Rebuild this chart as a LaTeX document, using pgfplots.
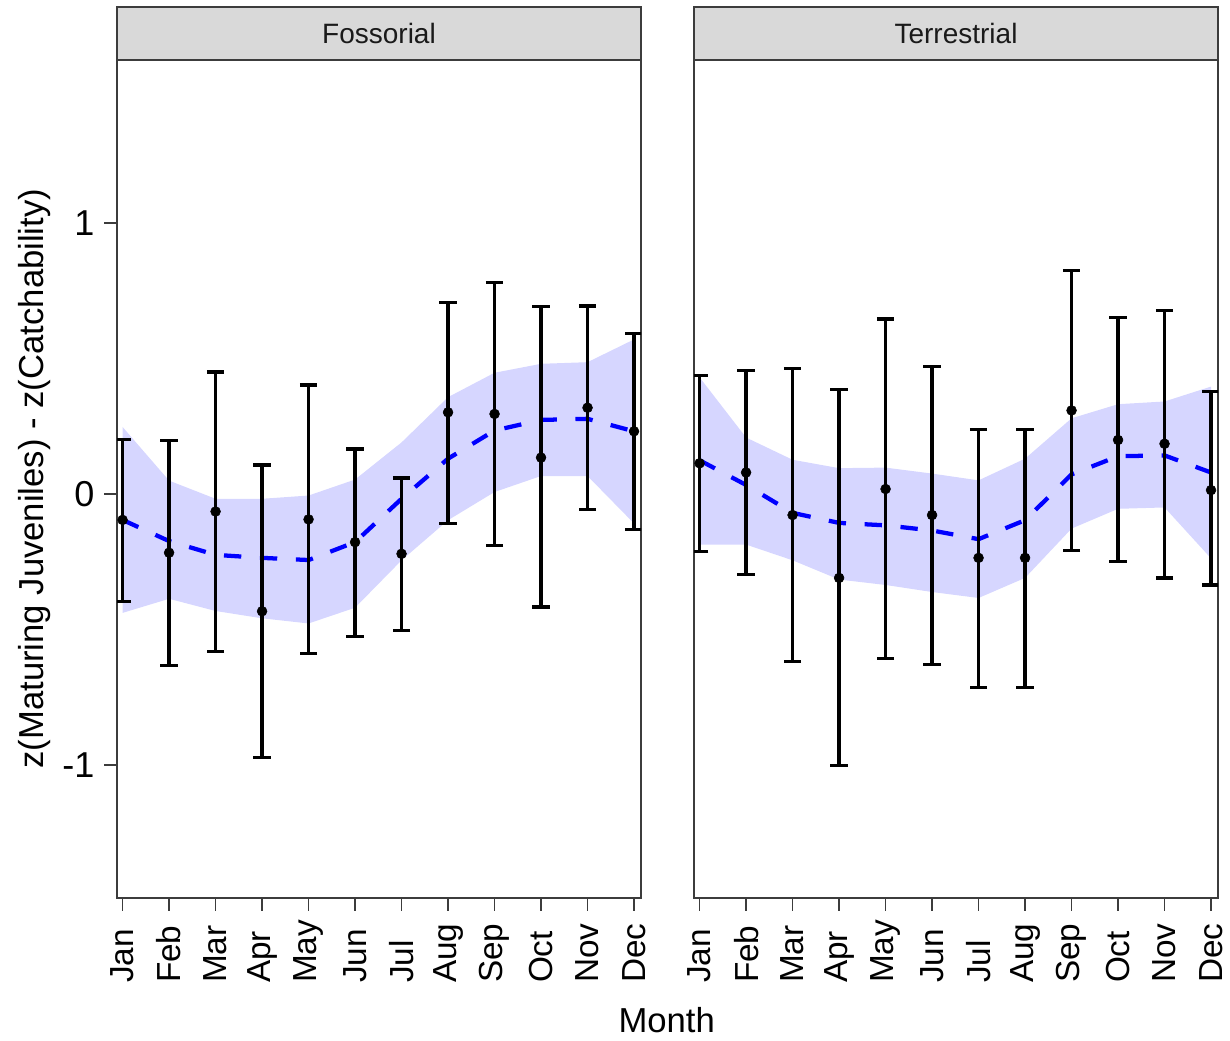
\documentclass[border=0pt]{standalone}
\usepackage{fontspec}
\setmainfont{Liberation Sans}
\usepackage{pgfplots}
\usepackage{pgfplotstable}
\pgfplotsset{compat=1.18}
\usepgfplotslibrary{fillbetween}
\definecolor{bandfill}{RGB}{214,214,255}
\definecolor{framegray}{RGB}{60,60,60}
\definecolor{stripgray}{RGB}{217,217,217}
\definecolor{striptext}{RGB}{26,26,26}
\definecolor{fitblue}{RGB}{0,0,255}

\pgfplotstableread{
x y lo hi
1 -0.096 -0.397 0.201
2 -0.217 -0.633 0.197
3 -0.065 -0.582 0.450
4 -0.433 -0.972 0.107
5 -0.094 -0.588 0.402
6 -0.178 -0.526 0.166
7 -0.221 -0.503 0.059
8 0.301 -0.109 0.705
9 0.295 -0.189 0.781
10 0.134 -0.417 0.691
11 0.318 -0.058 0.693
12 0.231 -0.132 0.592
}\fospts

\pgfplotstableread{
x y lo hi
1 -0.096 -0.439 0.247
2 -0.174 -0.387 0.049
3 -0.225 -0.432 -0.018
4 -0.236 -0.459 -0.018
5 -0.244 -0.478 -0.006
6 -0.178 -0.420 0.053
7 -0.018 -0.245 0.190
8 0.130 -0.097 0.357
9 0.234 0.007 0.447
10 0.273 0.066 0.480
11 0.277 0.066 0.486
12 0.231 -0.109 0.570
}\fosfit

\pgfplotstableread{
x y lo hi
1 0.113 -0.213 0.438
2 0.079 -0.297 0.454
3 -0.078 -0.618 0.464
4 -0.310 -1.003 0.385
5 0.018 -0.607 0.645
6 -0.078 -0.630 0.470
7 -0.236 -0.714 0.238
8 -0.236 -0.714 0.238
9 0.308 -0.209 0.823
10 0.199 -0.249 0.651
11 0.185 -0.310 0.678
12 0.014 -0.336 0.377
}\terpts

\pgfplotstableread{
x y lo hi
1 0.124 -0.187 0.430
2 0.033 -0.187 0.208
3 -0.070 -0.245 0.126
4 -0.107 -0.316 0.095
5 -0.116 -0.336 0.097
6 -0.135 -0.362 0.075
7 -0.167 -0.384 0.050
8 -0.097 -0.310 0.130
9 0.072 -0.128 0.279
10 0.139 -0.055 0.331
11 0.142 -0.050 0.341
12 0.079 -0.238 0.396
}\terfit

\pgfplotsset{
  panel/.style={
    scale only axis,
    width=393pt, height=628.5pt,
    anchor=south west,
    xmin=0.88, xmax=12.15,
    ymin=-1.491, ymax=1.601,
    xtick={1,2,3,4,5,6,7,8,9,10,11,12},
    xticklabels={Jan,Feb,Mar,Apr,May,Jun,Jul,Aug,Sep,Oct,Nov,Dec},
    xticklabel style={rotate=90, anchor=east, font=\fontsize{25}{30}\selectfont,
      text width=48pt, align=left, inner sep=0pt},
    yticklabel style={font=\fontsize{27}{31}\selectfont},
    xticklabel shift=6pt,
    yticklabel shift=4pt,
    tick align=outside,
    xtick pos=bottom, ytick pos=left,
    major tick length=9.5pt,
    tick style={framegray, line width=1pt},
    axis line style={framegray, line width=1.2pt},
    /pgf/number format/assume math mode=true,
  },
  errs/.style={
    only marks, mark=*, mark size=3.7pt, black,
    error bars/.cd, y dir=both, y explicit,
    error bar style={line width=2.4pt, black},
    error mark options={rotate=90, mark size=6.5pt, line width=2.4pt, black},
  },
  fitline/.style={fitblue, line width=3.2pt, dash pattern=on 13pt off 14pt, no markers},
}

\begin{document}
\begin{tikzpicture}
% left panel
\begin{axis}[panel, at={(87.75pt,106.5pt)},
  ytick={-1,0,1}, yticklabels={-1,0,1}]
  \addplot[name path=fu, draw=none, forget plot] table[x=x, y=hi] {\fosfit};
  \addplot[name path=fl, draw=none, forget plot] table[x=x, y=lo] {\fosfit};
  \addplot[bandfill, draw=none] fill between[of=fu and fl];
  \addplot[fitline] table[x=x, y=y] {\fosfit};
  \addplot[errs] table[x=x, y=y, y error plus expr=\thisrow{hi}-\thisrow{y}, y error minus expr=\thisrow{y}-\thisrow{lo}] {\fospts};
\end{axis}

% right panel
\begin{axis}[panel, at={(520.5pt,106.5pt)}, ytick=\empty]
  \addplot[name path=tu, draw=none, forget plot] table[x=x, y=hi] {\terfit};
  \addplot[name path=tl, draw=none, forget plot] table[x=x, y=lo] {\terfit};
  \addplot[bandfill, draw=none] fill between[of=tu and tl];
  \addplot[fitline] table[x=x, y=y] {\terfit};
  \addplot[errs] table[x=x, y=y, y error plus expr=\thisrow{hi}-\thisrow{y}, y error minus expr=\thisrow{y}-\thisrow{lo}] {\terpts};
\end{axis}

% strips
\draw[fill=stripgray, draw=framegray, line width=1.2pt] (87.75pt,735pt) rectangle (480.75pt,774.75pt);
\node[font=\fontsize{21}{25}\selectfont, text=striptext] at (284.25pt,754.9pt) {Fossorial};
\draw[fill=stripgray, draw=framegray, line width=1.2pt] (520.5pt,735pt) rectangle (913.5pt,774.75pt);
\node[font=\fontsize{21}{25}\selectfont, text=striptext] at (717pt,754.9pt) {Terrestrial};

% axis titles
\node[rotate=90, font=\fontsize{26}{30}\selectfont] at (26pt,421pt) {z(Maturing Juveniles) - z(Catchability)};
\node[font=\fontsize{26}{30}\selectfont] at (500pt,15pt) {Month};

\pgfresetboundingbox
\useasboundingbox (0,0) rectangle (922.5pt,780pt);
\end{tikzpicture}
\end{document}
